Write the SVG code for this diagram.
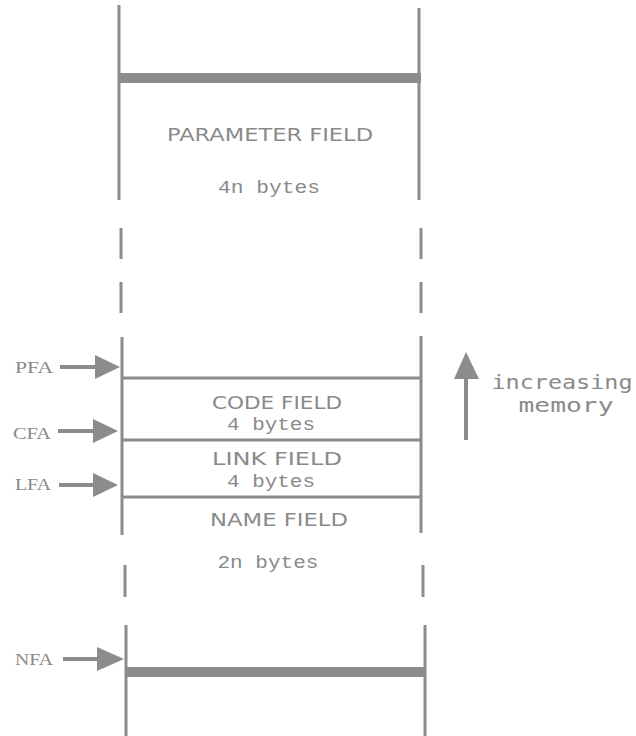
<svg xmlns="http://www.w3.org/2000/svg" width="636" height="736" viewBox="0 0 636 736">
  <style>
    .wall { stroke: #8c8c8c; stroke-width: 3; fill: none; }
    .rule { stroke: #8c8c8c; stroke-width: 3; fill: none; }
    .bar { stroke: #8c8c8c; stroke-width: 10; fill: none; }
    .shaft { stroke: #8c8c8c; stroke-width: 4; fill: none; }
    .head { fill: #8c8c8c; }
    .title { font-family: "DejaVu Sans", "Liberation Sans", sans-serif; font-size: 17px; fill: #8a8a8a; text-anchor: middle; dominant-baseline: central; }
    .size { font-family: "Liberation Mono", "DejaVu Sans Mono", monospace; font-size: 19px; fill: #8a8a8a; text-anchor: middle; dominant-baseline: central; }
    .addr { font-family: "Liberation Serif", "DejaVu Serif", serif; font-size: 16px; fill: #8a8a8a; dominant-baseline: central; }
    .note { font-family: "DejaVu Sans Mono", "Liberation Mono", monospace; font-size: 20px; fill: #8a8a8a; text-anchor: middle; dominant-baseline: central; }
  </style>

  <!-- Parameter field block -->
  <g id="parameter-field">
    <line class="wall" x1="119" y1="5" x2="119" y2="200"/>
    <line class="wall" x1="419" y1="8" x2="419" y2="200"/>
    <line class="bar" x1="118" y1="78" x2="421" y2="78"/>
    <text class="title" x="270" y="135" textLength="206" lengthAdjust="spacingAndGlyphs">PARAMETER FIELD</text>
    <text class="size" x="269" y="188" textLength="102" lengthAdjust="spacingAndGlyphs">4n bytes</text>
  </g>

  <!-- Broken walls between the parameter field and the header -->
  <g id="gap-upper">
    <line class="wall" x1="121" y1="228" x2="121" y2="259"/>
    <line class="wall" x1="121" y1="282" x2="121" y2="313"/>
    <line class="wall" x1="421" y1="228" x2="421" y2="259"/>
    <line class="wall" x1="421" y1="282" x2="421" y2="313"/>
  </g>

  <!-- Header: code, link and name fields -->
  <g id="header">
    <line class="wall" x1="122" y1="337" x2="122" y2="535"/>
    <line class="wall" x1="421" y1="336" x2="421" y2="533"/>
    <line class="rule" x1="122" y1="378" x2="421" y2="378"/>
    <line class="rule" x1="122" y1="440" x2="421" y2="440"/>
    <line class="rule" x1="122" y1="497" x2="421" y2="497"/>
  </g>

  <g id="code-field">
    <text class="title" x="277" y="403" textLength="130" lengthAdjust="spacingAndGlyphs">CODE FIELD</text>
    <text class="size" x="271" y="425" textLength="88" lengthAdjust="spacingAndGlyphs">4 bytes</text>
  </g>

  <g id="link-field">
    <text class="title" x="277" y="459" textLength="130" lengthAdjust="spacingAndGlyphs">LINK FIELD</text>
    <text class="size" x="271" y="482" textLength="88" lengthAdjust="spacingAndGlyphs">4 bytes</text>
  </g>

  <g id="name-field">
    <text class="title" x="279" y="520" textLength="138" lengthAdjust="spacingAndGlyphs">NAME FIELD</text>
    <text class="size" x="268" y="563" textLength="101" lengthAdjust="spacingAndGlyphs">2n bytes</text>
  </g>

  <!-- Broken walls below the name field -->
  <g id="gap-lower">
    <line class="wall" x1="125" y1="565" x2="125" y2="597"/>
    <line class="wall" x1="423" y1="565" x2="423" y2="597"/>
  </g>

  <!-- Start of the word -->
  <g id="word-start">
    <line class="wall" x1="126" y1="625" x2="126" y2="736"/>
    <line class="wall" x1="425" y1="625" x2="425" y2="736"/>
    <line class="bar" x1="126" y1="672" x2="426" y2="672"/>
  </g>

  <!-- Address pointers -->
  <g id="connectors">
    <g id="pfa">
      <text class="addr" x="15" y="367" textLength="38" lengthAdjust="spacingAndGlyphs">PFA</text>
      <line class="shaft" x1="60" y1="367" x2="98" y2="367"/>
      <polygon class="head" points="95,355 120,367 95,379"/>
    </g>
    <g id="cfa">
      <text class="addr" x="13" y="433" textLength="38" lengthAdjust="spacingAndGlyphs">CFA</text>
      <line class="shaft" x1="58" y1="431" x2="96" y2="431"/>
      <polygon class="head" points="93,419 118,431 93,443"/>
    </g>
    <g id="lfa">
      <text class="addr" x="15" y="484" textLength="36" lengthAdjust="spacingAndGlyphs">LFA</text>
      <line class="shaft" x1="59" y1="485" x2="96" y2="485"/>
      <polygon class="head" points="93,473 118,485 93,497"/>
    </g>
    <g id="nfa">
      <text class="addr" x="15" y="659" textLength="38" lengthAdjust="spacingAndGlyphs">NFA</text>
      <line class="shaft" x1="63" y1="659" x2="100" y2="659"/>
      <polygon class="head" points="97,647 124,659 97,671"/>
    </g>
    <g id="memory-direction">
      <line class="shaft" x1="466" y1="372" x2="466" y2="440"/>
      <polygon class="head" points="466,352 479,379 454,379"/>
    </g>
  </g>

  <g id="memory-label">
    <text class="note" x="562" y="382" textLength="141" lengthAdjust="spacingAndGlyphs">increasing</text>
    <text class="note" x="566" y="405" textLength="95" lengthAdjust="spacingAndGlyphs">memory</text>
  </g>
</svg>
